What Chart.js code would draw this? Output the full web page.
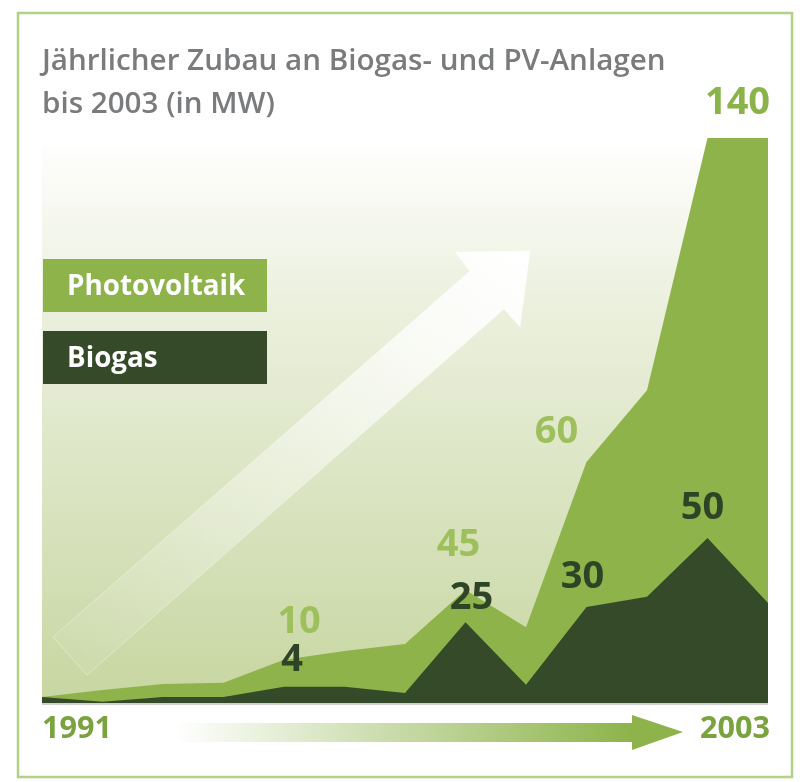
<!DOCTYPE html>
<html lang="de">
<head>
<meta charset="utf-8">
<title>Zubau Biogas und PV</title>
<script src="https://cdn.jsdelivr.net/npm/chart.js@4.4.1/dist/chart.umd.min.js"></script>
<style>
    html, body { margin: 0; padding: 0; background: #fff; }
    #wrap { width: 800px; height: 782px; }
</style>
</head>
<body>
<div id="wrap"><canvas id="zubauChart" width="800" height="782"></canvas></div>
<script>
// Daten
const years = ['1991', '1992', '1993', '1994', '1995', '1996', '1997', '1998', '1999', '2000', '2001', '2002', '2003'];
const pvValues = [1.5, 3.2, 4.7, 5, 10.7, 12.9, 14.6, 28, 18.8, 59.7, 77.5, 140, 140];
const biogasValues = [1.5, 0.3, 1.5, 1.5, 4, 4, 2.5, 20, 4.5, 23.8, 26.3, 40.9, 24.8];
const pvTags = [null, null, null, null, '10', null, null, '45', null, '60', null, '140', null];
const biogasTags = [null, null, null, null, '4', null, null, '25', null, '30', null, '50', null];
const yMax = 140;

const titleLines = ['Jährlicher Zubau an Biogas- und PV-Anlagen', 'bis 2003 (in MW)'];

const PV_GREEN = '#8db34a';
const DARK_GREEN = '#344a28';

// Schriftgröße so wählen, dass der Text eine Zielbreite hat
function fitFont(ctx, text, weight, width) {
    ctx.font = weight + ' 100px "Open Sans"';
    const size = 100 * width / ctx.measureText(text).width;
    return weight + ' ' + size.toFixed(1) + 'px "Open Sans"';
}

// Verschiebung der Zahlen relativ zum Datenpunkt
const pvNudge = { 4: [15, -38], 7: [-7, -45], 9: [-30, -30], 11: [30, -35] };
const bioNudge = { 4: [8, -27], 7: [6, -24], 9: [-4, -30], 11: [-5, -30] };

const decor = {
    id: 'decor',
    beforeDraw(chart) {
        const { ctx, chartArea: a } = chart;
        ctx.save();
        // Hintergrund-Verlauf im Diagrammbereich
        const g = ctx.createLinearGradient(0, a.top, 0, a.bottom);
        g.addColorStop(0, '#ffffff');
        g.addColorStop(0.25, '#eef2e2');
        g.addColorStop(1, '#c7d6a1');
        ctx.fillStyle = g;
        ctx.fillRect(a.left, a.top, a.right - a.left, a.bottom - a.top);

        // großer Pfeil diagonal
        const ag = ctx.createLinearGradient(70, 656, 530, 251);
        ag.addColorStop(0, 'rgba(255,255,255,0.05)');
        ag.addColorStop(0.5, 'rgba(255,255,255,0.45)');
        ag.addColorStop(1, 'rgba(255,255,255,1)');
        ctx.beginPath();
        ctx.moveTo(53, 637);
        ctx.lineTo(470, 271);
        ctx.lineTo(455, 252);
        ctx.lineTo(530, 251);
        ctx.lineTo(520, 327);
        ctx.lineTo(504, 309);
        ctx.lineTo(87, 675);
        ctx.closePath();
        ctx.fillStyle = ag;
        ctx.fill();
        ctx.strokeStyle = 'rgba(255,255,255,0.35)';
        ctx.lineWidth = 1;
        ctx.stroke();

        // Rahmen
        ctx.strokeStyle = '#b2d186';
        ctx.lineWidth = 2.5;
        ctx.strokeRect(18, 13, 774, 764);

        // Titel
        ctx.fillStyle = '#7a7b7d';
        ctx.textBaseline = 'alphabetic';
        ctx.textAlign = 'left';
        ctx.font = fitFont(ctx, titleLines[0], '600', 623);
        ctx.fillText(titleLines[0], 42, 70);
        ctx.fillText(titleLines[1], 42, 113);
        ctx.restore();
    },
    afterDatasetsDraw(chart) {
        const { ctx, chartArea: a, scales } = chart;
        const x = scales.x, y = scales.y;
        ctx.save();

        // Schatten unter der Fläche
        ctx.fillStyle = 'rgba(120,120,120,0.35)';
        ctx.fillRect(a.left, a.bottom, a.right - a.left, 2);

        // Werte
        ctx.textAlign = 'center';
        ctx.textBaseline = 'middle';
        ctx.font = 'bold 38px "Open Sans"';
        pvTags.forEach((t, i) => {
            if (!t) return;
            const n = pvNudge[i] || [0, -30];
            ctx.fillStyle = t === '140' ? '#8ab34a' : '#9dbf5c';
            ctx.fillText(t, x.getPixelForValue(i) + n[0], y.getPixelForValue(pvValues[i]) + n[1]);
        });
        biogasTags.forEach((t, i) => {
            if (!t) return;
            const n = bioNudge[i] || [0, -30];
            ctx.fillStyle = '#2f4426';
            ctx.fillText(t, x.getPixelForValue(i) + n[0], y.getPixelForValue(biogasValues[i]) + n[1]);
        });

        // Legende
        const ds = chart.data.datasets;
        const boxes = [[ds[1], 259], [ds[0], 331]];
        boxes.forEach(([d, top]) => {
            ctx.fillStyle = d.backgroundColor;
            ctx.fillRect(43, top, 224, 53);
            ctx.fillStyle = '#ffffff';
            ctx.textAlign = 'left';
            ctx.font = fitFont(ctx, 'Photovoltaik', 'bold', 178);
            ctx.fillText(d.label, 67, top + 28);
        });

        // Jahreszahlen
        ctx.fillStyle = '#7aa23e';
        ctx.font = fitFont(ctx, years[0], 'bold', 70);
        ctx.textAlign = 'left';
        ctx.fillText(years[0], a.left, 729);
        ctx.textAlign = 'right';
        ctx.fillText(years[years.length - 1], a.right + 2, 729);

        // Zeitpfeil
        const hg = ctx.createLinearGradient(175, 0, 633, 0);
        hg.addColorStop(0, 'rgba(141,179,74,0)');
        hg.addColorStop(1, PV_GREEN);
        ctx.fillStyle = hg;
        ctx.fillRect(175, 723, 458, 19);
        ctx.fillStyle = PV_GREEN;
        ctx.beginPath();
        ctx.moveTo(632, 715);
        ctx.lineTo(683, 732);
        ctx.lineTo(632, 750);
        ctx.closePath();
        ctx.fill();
        ctx.restore();
    }
};

const ctx = document.getElementById('zubauChart').getContext('2d');
new Chart(ctx, {
    type: 'line',
    data: {
        labels: years,
        datasets: [
            {
                label: 'Biogas',
                data: biogasValues,
                backgroundColor: DARK_GREEN,
                borderColor: DARK_GREEN,
                borderWidth: 0,
                fill: 'origin',
                pointRadius: 0,
                tension: 0
            },
            {
                label: 'Photovoltaik',
                data: pvValues,
                backgroundColor: PV_GREEN,
                borderColor: PV_GREEN,
                borderWidth: 0,
                fill: 'origin',
                pointRadius: 0,
                tension: 0
            }
        ]
    },
    options: {
        responsive: false,
        animation: false,
        layout: {
            padding: { left: 42, right: 32, top: 138, bottom: 79 }
        },
        plugins: {
            legend: { display: false },
            tooltip: { enabled: false }
        },
        scales: {
            x: { display: false, offset: false },
            y: { display: false, min: 0, max: yMax }
        }
    },
    plugins: [decor]
});
</script>
</body>
</html>
